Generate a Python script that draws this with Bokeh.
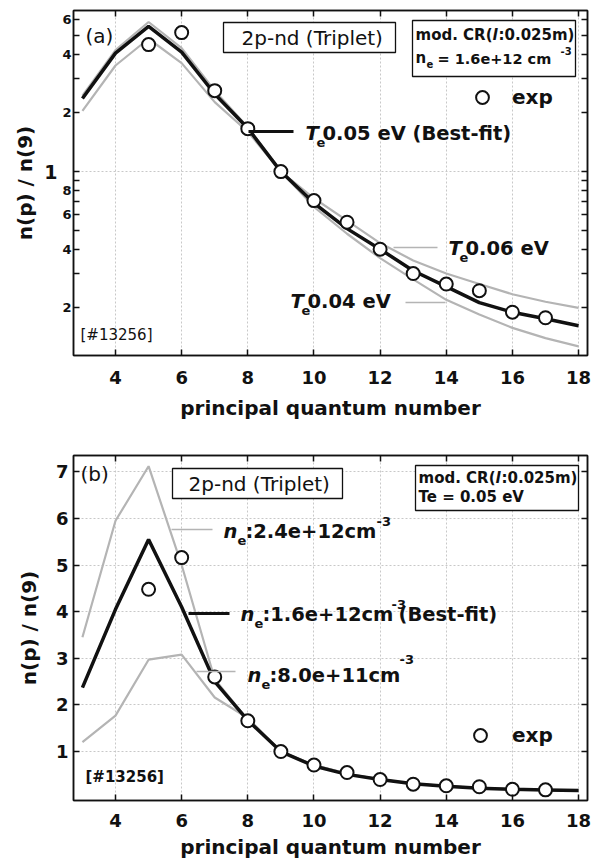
import math
from bokeh.plotting import figure
from bokeh.layouts import column
from bokeh.models import (Range1d, FixedTicker, LinearAxis, LogAxis, CustomJSTickFormatter,
                          Label, BoxAnnotation, Arrow, Legend, LegendItem)
from bokeh.embed import file_html
from bokeh.resources import INLINE

FONT = "DejaVu Sans"

# ---------------- data ----------------
n_model = [3, 4, 5, 6, 7, 8, 9, 10, 11, 12, 13, 14, 15, 16, 17, 18]
n_exp = [5, 6, 7, 8, 9, 10, 11, 12, 13, 14, 15, 16, 17]
exp_ratio = [4.48, 5.16, 2.60, 1.66, 1.00, 0.71, 0.55, 0.40, 0.30, 0.265, 0.245, 0.19, 0.178]

best_fit = [2.37, 4.05, 5.55, 4.10, 2.50, 1.67, 1.00, 0.69, 0.51, 0.40, 0.31, 0.257, 0.213, 0.19, 0.176, 0.162]
te_004 = [2.45, 4.20, 5.85, 4.30, 2.60, 1.69, 1.00, 0.66, 0.48, 0.36, 0.28, 0.22, 0.185, 0.158, 0.14, 0.127]
te_006 = [2.05, 3.50, 4.80, 3.60, 2.27, 1.60, 1.00, 0.73, 0.56, 0.43, 0.35, 0.30, 0.265, 0.235, 0.215, 0.20]
ne_24e12 = [3.45, 5.95, 7.12, 5.00, 2.55, 1.68, 1.00, 0.71, 0.53, 0.40, 0.31, 0.26, 0.22, 0.19, 0.175, 0.16]
ne_80e11 = [1.20, 1.77, 2.97, 3.08, 2.16, 1.72, 1.00, 0.71, 0.52, 0.40, 0.31, 0.26, 0.215, 0.19, 0.175, 0.16]

x_ticks = [4, 6, 8, 10, 12, 14, 16, 18]
ya_ticks = [0.2, 0.3, 0.4, 0.5, 0.6, 0.7, 0.8, 0.9, 1, 2, 3, 4, 5, 6]
ya_labels = ["2", "", "4", "", "6", "", "8", "", "", "2", "", "4", "", "6"]
ya_big_ticks = [1]
yb_ticks = [1, 2, 3, 4, 5, 6, 7]

# ---------------- geometry (page px) ----------------
W = 600
L, R = 73, 587
A_T, A_B = 10, 355
B_T, B_B = 455, 800
HA, HB = 425, 439
X0, X1 = 2.73, 18.27
YA0, YA1 = 0.114, 6.7
YB0, YB1 = -0.05, 7.35


def X(sx):
    return X0 + (sx - L) * (X1 - X0) / (R - L)


def YA(sy):
    lo, hi = math.log10(YA0), math.log10(YA1)
    return 10 ** (hi - (sy - A_T) * (hi - lo) / (A_B - A_T))


def YB(sy):
    return YB1 - (sy - B_T) * (YB1 - YB0) / (B_B - B_T)


def label(p, Y, sx, sy, text, size, style="bold", color="#111111", align="left"):
    sy = sy - 0.34 * size
    p.add_layout(Label(x=X(sx), y=Y(sy), text=text, text_font=FONT,
                       text_font_size=f"{size}px", text_font_style=style,
                       text_color=color, text_baseline="alphabetic", text_align=align))


def box(p, Y, l, r, t, b):
    p.add_layout(BoxAnnotation(left=X(l), right=X(r), top=Y(t), bottom=Y(b),
                               fill_color="white", fill_alpha=1.0,
                               line_color="#111111", line_width=1.3, line_alpha=1.0))


def leader(p, Y, x0, x1, sy, color, width):
    p.add_layout(Arrow(end=None, x_start=X(x0), y_start=Y(sy), x_end=X(x1), y_end=Y(sy),
                       line_color=color, line_width=width))


def style_axis(ax, ticker, size, formatter=None, show=True, standoff=4):
    ax.ticker = ticker
    ax.axis_line_width = 1.5
    ax.axis_line_color = "#111111"
    ax.major_tick_in = 6
    ax.major_tick_out = 0
    ax.major_tick_line_width = 1.5
    ax.major_tick_line_color = "#111111"
    ax.minor_tick_in = 0
    ax.minor_tick_out = 0
    ax.major_label_text_font = FONT
    ax.major_label_text_font_style = "bold"
    ax.major_label_text_color = "#111111"
    if show:
        ax.major_label_text_font_size = f"{size}px"
        ax.major_label_standoff = standoff
        if formatter is not None:
            ax.formatter = formatter
    else:
        ax.major_label_text_font_size = "0px"
        ax.major_label_standoff = 0
        ax.formatter = CustomJSTickFormatter(code="return '';")


def set_axis_label(ax, txt, st):
    ax.axis_label = txt
    ax.axis_label_text_font = FONT
    ax.axis_label_text_font_style = "bold"
    ax.axis_label_text_font_size = "20px"
    ax.axis_label_text_color = "#111111"
    ax.axis_label_standoff = st


def make_fig(log, yr, height, top_border, yticks, ylabel_size, yformatter, ystandoff,
             xstandoff, xlabel_standoff):
    p = figure(width=W, height=height,
               x_range=Range1d(X0, X1), y_range=Range1d(*yr),
               y_axis_type="log" if log else "linear",
               output_backend="svg", toolbar_location=None,
               min_border_left=L, min_border_right=W - R,
               min_border_top=top_border, min_border_bottom=height - top_border - 345)
    p.background_fill_color = "white"
    p.outline_line_color = "#111111"
    p.outline_line_width = 1.5

    style_axis(p.below[0], FixedTicker(ticks=x_ticks), 18, standoff=xstandoff)
    style_axis(p.left[0], FixedTicker(ticks=yticks), ylabel_size, formatter=yformatter, standoff=ystandoff)

    top = LinearAxis()
    style_axis(top, FixedTicker(ticks=x_ticks), 0, show=False)
    p.add_layout(top, "above")
    right = LogAxis() if log else LinearAxis()
    style_axis(right, FixedTicker(ticks=yticks), 0, show=False)
    p.add_layout(right, "right")

    set_axis_label(p.below[0], "principal quantum number", xlabel_standoff)

    p.xgrid.ticker = FixedTicker(ticks=x_ticks)
    p.grid.grid_line_color = "#c8c8c8"
    p.grid.grid_line_dash = "2 2"
    p.grid.grid_line_width = 1
    return p


GRAY = "#b4b4b4"
BLACK = "#111111"

# ---------------- panel (a) ----------------
fmt_a = CustomJSTickFormatter(args=dict(vals=ya_ticks, labs=ya_labels), code="""
    const i = vals.findIndex(v => Math.abs(v - tick) < 1e-9 * Math.max(1, Math.abs(v)));
    return i >= 0 ? labs[i] : '';
""")
pa = make_fig(True, (YA0, YA1), HA, A_T, ya_ticks, 13, fmt_a, 2, 15, 9)
pa.ygrid.ticker = FixedTicker(ticks=[1])

# outer left axis carrying the large "1" and the axis title
outer = LogAxis(ticker=FixedTicker(ticks=ya_big_ticks))
outer.axis_line_alpha = 0
outer.major_tick_in = 0
outer.major_tick_out = 0
outer.minor_tick_in = 0
outer.minor_tick_out = 0
outer.major_label_standoff = 2
outer.major_label_text_font = FONT
outer.major_label_text_font_style = "bold"
outer.major_label_text_font_size = "19px"
outer.major_label_text_color = BLACK
outer.formatter = CustomJSTickFormatter(code="return '1';")
set_axis_label(outer, "n(p) / n(9)", 4)
pa.add_layout(outer, "left")

pa.line(n_model, te_004, line_color=GRAY, line_width=2.2)
pa.line(n_model, te_006, line_color=GRAY, line_width=2.2)
pa.line(n_model, best_fit, line_color=BLACK, line_width=3.5)
ca = pa.scatter(n_exp, exp_ratio, marker="circle", size=13, fill_color="white",
                line_color=BLACK, line_width=2)

label(pa, YA, 85, 42, "(a)", 20, style="normal")
box(pa, YA, 223, 395, 22, 52)
label(pa, YA, 241, 44, "2p-nd (Triplet)", 20, style="normal")
box(pa, YA, 412, 575, 20, 76)
label(pa, YA, 415, 40, "mod. CR(", 15)
label(pa, YA, 492, 40, "l", 15, style="bold italic")
label(pa, YA, 498, 40, ":0.025m)", 15)
label(pa, YA, 415, 63, "n", 15)
label(pa, YA, 426, 67, "e", 10)
label(pa, YA, 437, 63, "= 1.6e+12 cm", 14.5)
label(pa, YA, 560, 54, "-3", 10)

leader(pa, YA, 248, 293, 131, BLACK, 3)
label(pa, YA, 305, 140, "T", 19.5, style="bold italic")
label(pa, YA, 316, 146, "e", 13)
label(pa, YA, 322, 140, "0.05 eV (Best-fit)", 19.5)

leader(pa, YA, 393, 437, 247, GRAY, 1.5)
label(pa, YA, 448, 255, "T", 19.5, style="bold italic")
label(pa, YA, 459, 261, "e", 13)
label(pa, YA, 465, 255, "0.06 eV", 19.5)

leader(pa, YA, 405, 445, 302, GRAY, 1.5)
label(pa, YA, 290, 308, "T", 19.5, style="bold italic")
label(pa, YA, 301, 314, "e", 13)
label(pa, YA, 307, 308, "0.04 eV", 19.5)

label(pa, YA, 80, 340, "[#13256]", 15, style="normal")

leg_a = Legend(items=[LegendItem(label="exp", renderers=[ca])], location=(393, 242),
               padding=0, margin=0, spacing=0, glyph_width=32, glyph_height=32,
               label_height=32, label_standoff=14, label_text_font=FONT,
               label_text_font_style="bold", label_text_font_size="20px",
               label_text_color=BLACK, border_line_alpha=0, background_fill_alpha=0)
pa.add_layout(leg_a)

# ---------------- panel (b) ----------------
pb = make_fig(False, (YB0, YB1), HB, B_T - HA, yb_ticks, 18, None, 5, 13, 5)
set_axis_label(pb.left[0], "n(p) / n(9)", 12)
pb.ygrid.ticker = FixedTicker(ticks=yb_ticks)

pb.line(n_model, ne_24e12, line_color=GRAY, line_width=2.2)
pb.line(n_model, ne_80e11, line_color=GRAY, line_width=2.2)
pb.line(n_model, best_fit, line_color=BLACK, line_width=3.5)
cb = pb.scatter(n_exp, exp_ratio, marker="circle", size=13, fill_color="white",
                line_color=BLACK, line_width=2)

label(pb, YB, 80, 480, "(b)", 20, style="normal")
box(pb, YB, 172, 342, 468, 498)
label(pb, YB, 188, 490, "2p-nd (Triplet)", 20, style="normal")
box(pb, YB, 415, 578, 465, 510)
label(pb, YB, 418, 483, "mod. CR(", 15)
label(pb, YB, 495, 483, "l", 15, style="bold italic")
label(pb, YB, 501, 483, ":0.025m)", 15)
label(pb, YB, 418, 502, "Te = 0.05 eV", 15)

leader(pb, YB, 171, 212, 529, GRAY, 1.5)
label(pb, YB, 223, 538, "n", 19.5, style="bold italic")
label(pb, YB, 237, 544, "e", 13)
label(pb, YB, 245, 538, ":2.4e+12cm", 19.5)
label(pb, YB, 376, 525, "-3", 13)

leader(pb, YB, 188, 229, 613, BLACK, 3)
label(pb, YB, 240, 621, "n", 19.5, style="bold italic")
label(pb, YB, 254, 627, "e", 13)
label(pb, YB, 262, 621, ":1.6e+12cm", 19.5)
label(pb, YB, 391, 608, "-3", 13)
label(pb, YB, 398, 621, "(Best-fit)", 19.5)

leader(pb, YB, 196, 235, 671, GRAY, 1.5)
label(pb, YB, 247, 682, "n", 19.5, style="bold italic")
label(pb, YB, 261, 688, "e", 13)
label(pb, YB, 269, 682, ":8.0e+11cm", 19.5)
label(pb, YB, 399, 663, "-3", 13)

label(pb, YB, 85, 782, "[#13256]", 15)

leg_b = Legend(items=[LegendItem(label="exp", renderers=[cb])], location=(391, 49),
               padding=0, margin=0, spacing=0, glyph_width=32, glyph_height=32,
               label_height=32, label_standoff=16, label_text_font=FONT,
               label_text_font_style="bold", label_text_font_size="20px",
               label_text_color=BLACK, border_line_alpha=0, background_fill_alpha=0)
pb.add_layout(leg_b)

layout = column(pa, pb, spacing=0)
open("out.html", "w").write(file_html(layout, INLINE))
